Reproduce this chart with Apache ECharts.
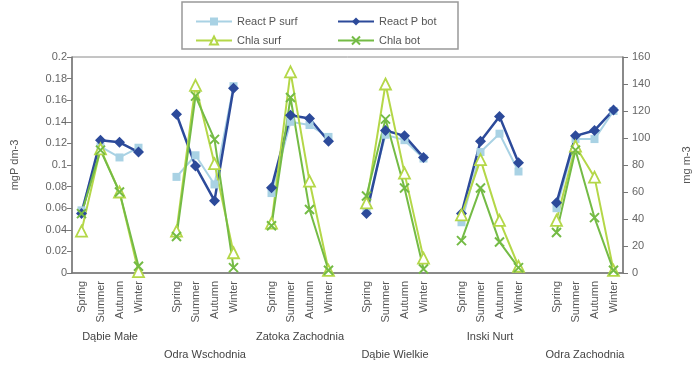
<!DOCTYPE html>
<html>
<head>
<meta charset="utf-8">
<script src="https://cdn.jsdelivr.net/npm/echarts@6/dist/echarts.min.js"></script>
<style>html,body{margin:0;padding:0;background:#fff}#c{width:700px;height:372px}</style>
</head>
<body>
<div id="c"></div>
<script>
var seasons = ['Spring', 'Summer', 'Autumn', 'Winter'];
var sites = ['Dąbie Małe', 'Odra Wschodnia', 'Zatoka Zachodnia', 'Dąbie Wielkie', 'Inski Nurt', 'Odra Zachodnia'];
var siteLabelLow = [false, true, false, true, false, true];

// mgP dm-3 (left axis), per site: Spring, Summer, Autumn, Winter
var reactPSurf = [0.058, 0.117, 0.107, 0.116,  0.089, 0.109, 0.082, 0.173,  0.074, 0.140, 0.137, 0.126,  0.060, 0.128, 0.123, 0.106,  0.047, 0.112, 0.129, 0.094,  0.060, 0.124, 0.124, 0.150];
var reactPBot  = [0.055, 0.123, 0.121, 0.112,  0.147, 0.099, 0.067, 0.171,  0.079, 0.146, 0.143, 0.122,  0.055, 0.132, 0.127, 0.107,  0.055, 0.122, 0.145, 0.102,  0.065, 0.127, 0.132, 0.151];
// mg m-3 (right axis)
var chlaSurf   = [31, 92, 60, 1,  31, 139, 81, 15,  37, 149, 68, 2,  52, 140, 74, 11,  43, 84, 39, 5,  39, 94, 71, 2];
var chlaBot    = [44, 91, 60, 5,  27, 131, 99, 4,  35, 130, 47, 2,  57, 114, 63, 3,  24, 63, 23, 4,  30, 91, 41, 2];

var leftTicks = { min: 0, max: 0.2, interval: 0.02 };
var rightTicks = { min: 0, max: 160, interval: 20 };

// build category axis with a blank slot between sites
var categories = [];
var siteIndex = [];
sites.forEach(function (s, g) {
  if (g > 0) { categories.push(''); siteIndex.push(-1); }
  seasons.forEach(function (se) { categories.push(se); siteIndex.push(g); });
});
function pad(arr) {
  var out = [], k = 0;
  siteIndex.forEach(function (g) { if (g < 0) out.push(null); else out.push(arr[k++]); });
  return out;
}

var cSurfP = '#a9d2e4', cBotP = '#2c4a9a', cSurfC = '#b4d748', cBotC = '#74bb45';
var xPath = 'path://M0,0L10,10M10,0L0,10';

var chart = echarts.init(document.getElementById('c'));
var option = {
  animation: false,
  textStyle: { fontFamily: 'Liberation Sans, Arial, sans-serif' },
  grid: { left: 72, right: 69, top: 57, bottom: 99, show: true, borderColor: '#8a8a8a', borderWidth: 1 },
  legend: [
    { orient: 'vertical', left: 190, top: 11, itemWidth: 36, itemHeight: 10, itemGap: 8,
      textStyle: { fontSize: 11, color: '#555' }, data: ['React P surf', 'Chla surf'] },
    { orient: 'vertical', left: 332, top: 11, itemWidth: 36, itemHeight: 10, itemGap: 8,
      textStyle: { fontSize: 11, color: '#555' }, data: ['React P bot', 'Chla bot'] }
  ],
  xAxis: {
    type: 'category', data: categories, boundaryGap: true,
    axisLine: { lineStyle: { color: '#777', width: 1.5 } },
    axisTick: { interval: 0, length: 4, lineStyle: { color: '#777' } },
    axisLabel: { interval: 0, rotate: 90, fontSize: 11, color: '#555', margin: 8 }
  },
  yAxis: [
    { type: 'value', min: leftTicks.min, max: leftTicks.max, interval: leftTicks.interval,
      name: 'mgP dm-3', nameLocation: 'middle', nameGap: 52, nameRotate: 90,
      nameTextStyle: { fontSize: 11, color: '#555' },
      splitLine: { show: false },
      axisLine: { show: true, lineStyle: { color: '#777', width: 1.5 } },
      axisTick: { show: true, length: 5, lineStyle: { color: '#777' } },
      axisLabel: { fontSize: 11, color: '#666', margin: 5 } },
    { type: 'value', min: rightTicks.min, max: rightTicks.max, interval: rightTicks.interval,
      position: 'right',
      name: 'mg m-3', nameLocation: 'middle', nameGap: 58, nameRotate: 90,
      nameTextStyle: { fontSize: 11, color: '#555' },
      splitLine: { show: false },
      axisLine: { show: true, lineStyle: { color: '#777', width: 1.5 } },
      axisTick: { show: true, length: 5, lineStyle: { color: '#777' } },
      axisLabel: { fontSize: 11, color: '#666', margin: 9 } }
  ],
  series: [
    { name: 'React P surf', type: 'line', yAxisIndex: 0, data: pad(reactPSurf),
      symbol: 'rect', symbolSize: 8, lineStyle: { color: cSurfP, width: 2 },
      itemStyle: { color: cSurfP } },
    { name: 'React P bot', type: 'line', yAxisIndex: 0, data: pad(reactPBot),
      symbol: 'diamond', symbolSize: 11, lineStyle: { color: cBotP, width: 2.5 },
      itemStyle: { color: cBotP } },
    { name: 'Chla surf', type: 'line', yAxisIndex: 1, data: pad(chlaSurf),
      symbol: 'triangle', symbolSize: 11, lineStyle: { color: cSurfC, width: 2 },
      itemStyle: { color: '#fff', borderColor: cSurfC, borderWidth: 1.8 } },
    { name: 'Chla bot', type: 'line', yAxisIndex: 1, data: pad(chlaBot),
      symbol: xPath, symbolSize: 9, lineStyle: { color: cBotC, width: 2 },
      itemStyle: { color: cBotC, borderColor: cBotC, borderWidth: 2 } }
  ]
};
chart.setOption(option);

// site names under each group, centred via the axis scale
var graphics = [{
  type: 'rect', shape: { x: 182, y: 2, width: 276, height: 47 },
  style: { fill: 'none', stroke: '#999', lineWidth: 1.5 }, z: 0
}];
var base = 0;
sites.forEach(function (s, g) {
  var i1 = base + 1, i2 = base + 2;
  var x = (chart.convertToPixel({ xAxisIndex: 0 }, i1) + chart.convertToPixel({ xAxisIndex: 0 }, i2)) / 2;
  graphics.push({
    type: 'text', x: x, y: siteLabelLow[g] ? 355 : 337,
    style: { text: s, fontSize: 11, fill: '#444', align: 'center', verticalAlign: 'middle',
             fontFamily: 'Liberation Sans, Arial, sans-serif' }
  });
  base += 5;
});
chart.setOption({ graphic: graphics });
</script>
</body>
</html>
